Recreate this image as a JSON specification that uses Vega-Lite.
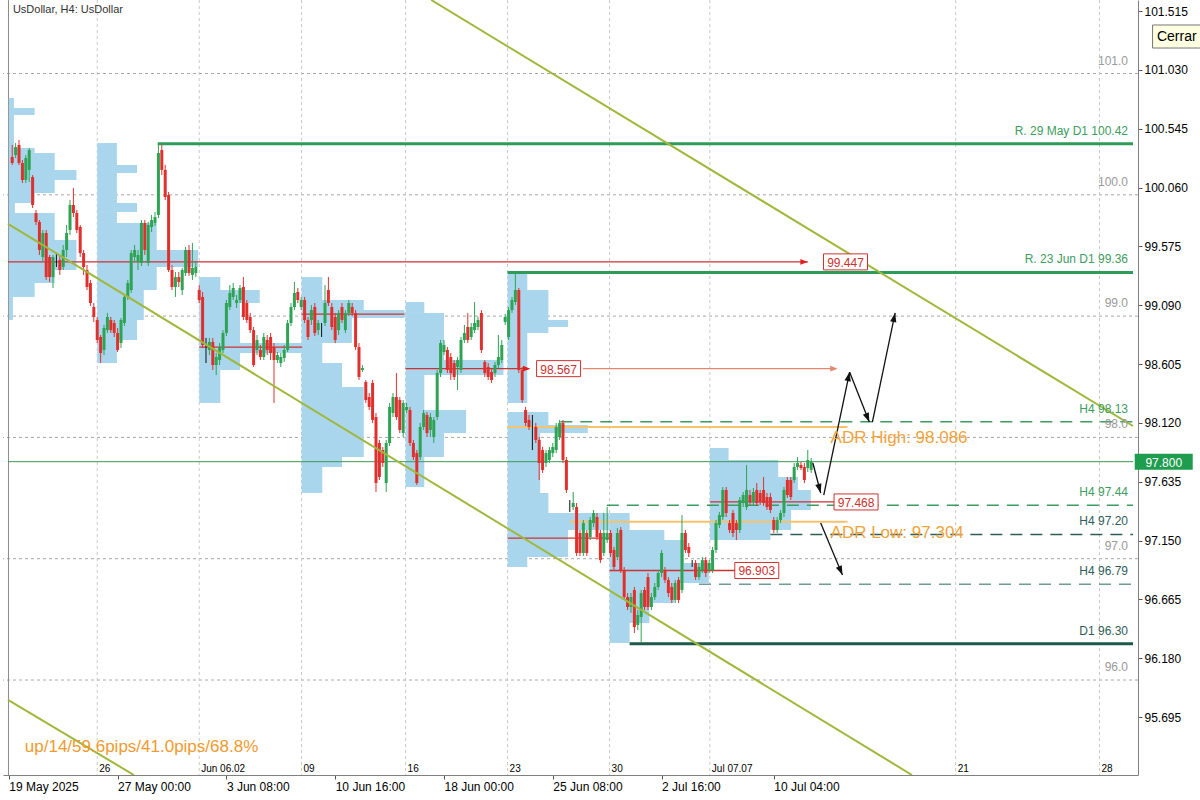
{
"$schema":"https://vega.github.io/schema/vega-lite/v6.json",
"width":1135,"height":775,
"autosize":{"type":"none"},
"padding":{"left":3,"top":0,"right":62,"bottom":25},
"background":"white",
"config":{"view":{"stroke":null},"font":"Liberation Sans"},
"resolve":{"scale":{"color":"independent"}},
"datasets":{
"one":[{}],
"hgrid":[{"g":96},{"g":97},{"g":98},{"g":99},{"g":100},{"g":101}],
"vlab":[{"v":0,"t":"26"},{"v":30,"t":"Jun 06.02"},{"v":60.1,"t":"09"},{"v":90.7,"t":"16"},{"v":120.7,"t":"23"},{"v":150.7,"t":"30"},{"v":180.2,"t":"Jul 07.07"},{"v":252.5,"t":"21"},{"v":294.8,"t":"28"}],
"prof":[
{"s":-26,"e":-24.5,"lo":100.716,"hi":100.798},{"s":-26,"e":-18.4,"lo":100.658,"hi":100.716},{"s":-26,"e":-24.5,"lo":100.386,"hi":100.658},{"s":-26,"e":-18.4,"lo":100.345,"hi":100.386},{"s":-26,"e":-12.5,"lo":100.205,"hi":100.345},{"s":-26,"e":-6.1,"lo":100.122,"hi":100.205},{"s":-26,"e":-12.5,"lo":100.015,"hi":100.122},{"s":-26,"e":-18.4,"lo":99.932,"hi":100.015},{"s":-26,"e":-24.2,"lo":99.85,"hi":99.932},{"s":-26,"e":-12.5,"lo":99.628,"hi":99.85},{"s":-26,"e":-6.1,"lo":99.38,"hi":99.628},{"s":-26,"e":-12.5,"lo":99.273,"hi":99.38},{"s":-26,"e":-18.4,"lo":99.158,"hi":99.273},{"s":-26,"e":-24.8,"lo":98.968,"hi":99.158},
{"s":0,"e":5.8,"lo":100.246,"hi":100.427},{"s":0,"e":11.7,"lo":100.18,"hi":100.246},{"s":0,"e":5.8,"lo":99.932,"hi":100.18},{"s":0,"e":11.7,"lo":99.858,"hi":99.932},{"s":0,"e":5.8,"lo":99.768,"hi":99.858},{"s":0,"e":17.5,"lo":99.545,"hi":99.768},{"s":0,"e":29.7,"lo":99.405,"hi":99.545},{"s":0,"e":17.5,"lo":99.215,"hi":99.405},{"s":0,"e":13.7,"lo":98.968,"hi":99.215},{"s":0,"e":11.7,"lo":98.803,"hi":98.968},{"s":0,"e":5.8,"lo":98.613,"hi":98.803},
{"s":30,"e":36.2,"lo":99.215,"hi":99.322},{"s":30,"e":47.8,"lo":99.108,"hi":99.215},{"s":30,"e":42,"lo":98.778,"hi":99.108},{"s":30,"e":60.3,"lo":98.696,"hi":98.778},{"s":30,"e":42,"lo":98.556,"hi":98.696},{"s":30,"e":36.2,"lo":98.284,"hi":98.556},
{"s":60.1,"e":66.2,"lo":99.133,"hi":99.322},{"s":60.1,"e":78.4,"lo":99.05,"hi":99.133},{"s":60.1,"e":90.4,"lo":98.984,"hi":99.05},{"s":60.1,"e":74.9,"lo":98.778,"hi":98.984},{"s":60.1,"e":66.2,"lo":98.613,"hi":98.778},{"s":60.1,"e":72,"lo":98.416,"hi":98.613},{"s":60.1,"e":78.4,"lo":97.838,"hi":98.416},{"s":60.1,"e":72,"lo":97.756,"hi":97.838},{"s":60.1,"e":66.2,"lo":97.542,"hi":97.756},
{"s":90.7,"e":96.2,"lo":99.026,"hi":99.116},{"s":90.7,"e":102,"lo":98.638,"hi":99.026},{"s":90.7,"e":119.5,"lo":98.514,"hi":98.638},{"s":90.7,"e":96.2,"lo":98.226,"hi":98.514},{"s":90.7,"e":108.5,"lo":98.036,"hi":98.226},{"s":90.7,"e":102,"lo":97.838,"hi":98.036},{"s":90.7,"e":96.2,"lo":97.591,"hi":97.838},
{"s":120.7,"e":126.5,"lo":99.215,"hi":99.355},{"s":120.7,"e":132.7,"lo":98.968,"hi":99.215},{"s":120.7,"e":138.5,"lo":98.91,"hi":98.968},{"s":120.7,"e":132.7,"lo":98.861,"hi":98.91},{"s":120.7,"e":126.5,"lo":98.284,"hi":98.861},{"s":120.7,"e":132.7,"lo":98.102,"hi":98.209},{"s":120.7,"e":144.3,"lo":98.036,"hi":98.102},{"s":120.7,"e":130.3,"lo":97.542,"hi":98.036},{"s":120.7,"e":132.7,"lo":97.377,"hi":97.542},{"s":120.7,"e":150.7,"lo":97.237,"hi":97.377},{"s":120.7,"e":138.5,"lo":97.014,"hi":97.237},{"s":120.7,"e":126.5,"lo":96.932,"hi":97.014},
{"s":150.7,"e":156.6,"lo":97.237,"hi":97.377},{"s":150.7,"e":166.8,"lo":97.154,"hi":97.237},{"s":150.7,"e":172.6,"lo":96.965,"hi":97.154},{"s":150.7,"e":179.9,"lo":96.8,"hi":96.965},{"s":150.7,"e":169.7,"lo":96.635,"hi":96.8},{"s":150.7,"e":162.4,"lo":96.47,"hi":96.635},{"s":150.7,"e":156.6,"lo":96.305,"hi":96.47},
{"s":180.2,"e":185.7,"lo":97.814,"hi":97.913},{"s":180.2,"e":200.3,"lo":97.674,"hi":97.814},{"s":180.2,"e":206.1,"lo":97.567,"hi":97.674},{"s":180.2,"e":209.9,"lo":97.402,"hi":97.567},{"s":180.2,"e":204.1,"lo":97.237,"hi":97.402},{"s":180.2,"e":198,"lo":97.154,"hi":97.237}
],
"levels":[
{"x1":-26.24,"x2":304.66,"p":97.8,"k":"cur"},
{"x1":17.8,"x2":304.66,"p":100.42,"k":"R"},{"x1":120.7,"x2":304.66,"p":99.36,"k":"R"},
{"x1":156.6,"x2":304.66,"p":96.3,"k":"D1"},
{"x1":136.2,"x2":304.66,"p":98.13,"k":"H4g"},{"x1":149.9,"x2":304.66,"p":97.44,"k":"H4g"},
{"x1":198,"x2":304.66,"p":97.2,"k":"H4d"},{"x1":177,"x2":304.66,"p":96.79,"k":"H4s"},
{"x1":120.7,"x2":220.7,"p":98.086,"k":"ADR"},{"x1":139,"x2":220.7,"p":97.304,"k":"ADR"},
{"x1":-26.24,"x2":209,"p":99.447,"k":"poc"},{"x1":30,"x2":60.3,"p":98.745,"k":"poc"},{"x1":60.1,"x2":90.4,"p":99.017,"k":"poc"},{"x1":90.7,"x2":127,"p":98.567,"k":"poc"},{"x1":120.7,"x2":150.7,"p":97.17,"k":"poc"},{"x1":150.7,"x2":187.8,"p":96.903,"k":"poc"},{"x1":180.2,"x2":216.9,"p":97.468,"k":"poc"},
{"x1":142.9,"x2":216.5,"p":98.567,"k":"poc2"}
],
"candles":[
{"i":-25,"o":100.312,"h":100.411,"l":100.246,"c":100.262},{"i":-24,"o":100.328,"h":100.427,"l":100.303,"c":100.394},{"i":-23,"o":100.411,"h":100.452,"l":100.246,"c":100.262},{"i":-22,"o":100.262,"h":100.287,"l":100.097,"c":100.122},{"i":-21,"o":100.122,"h":100.328,"l":100.097,"c":100.303},{"i":-20,"o":100.205,"h":100.386,"l":100.106,"c":100.369},{"i":-19,"o":100.147,"h":100.163,"l":99.891,"c":99.916},{"i":-18,"o":99.85,"h":99.875,"l":99.751,"c":99.776},{"i":-17,"o":99.776,"h":99.792,"l":99.504,"c":99.545},{"i":-16,"o":99.487,"h":99.71,"l":99.446,"c":99.685},{"i":-15,"o":99.685,"h":99.71,"l":99.298,"c":99.322},{"i":-14,"o":99.487,"h":99.504,"l":99.281,"c":99.322},{"i":-13,"o":99.322,"h":99.504,"l":99.232,"c":99.487},{"i":-12,"o":99.47,"h":99.52,"l":99.405,"c":99.47},{"i":-11,"o":99.463,"h":99.504,"l":99.339,"c":99.38},{"i":-10,"o":99.405,"h":99.586,"l":99.38,"c":99.545},{"i":-9,"o":99.545,"h":99.751,"l":99.487,"c":99.685},{"i":-8,"o":99.71,"h":99.957,"l":99.669,"c":99.916},{"i":-7,"o":99.916,"h":100.056,"l":99.817,"c":99.85},{"i":-6,"o":99.85,"h":99.875,"l":99.685,"c":99.71},{"i":-5,"o":99.735,"h":99.751,"l":99.487,"c":99.52},{"i":-4,"o":99.52,"h":99.545,"l":99.339,"c":99.405},{"i":-3,"o":99.38,"h":99.421,"l":99.215,"c":99.24},{"i":-2,"o":99.273,"h":99.298,"l":99.083,"c":99.108},{"i":-1,"o":99.075,"h":99.108,"l":98.951,"c":98.993},
{"i":0,"o":98.968,"h":98.993,"l":98.778,"c":98.803},{"i":1,"o":98.828,"h":98.844,"l":98.613,"c":98.696},{"i":2,"o":98.721,"h":98.927,"l":98.679,"c":98.902},{"i":3,"o":98.885,"h":99.026,"l":98.861,"c":98.993},{"i":4,"o":98.968,"h":98.993,"l":98.861,"c":98.885},{"i":5,"o":98.943,"h":98.968,"l":98.828,"c":98.861},{"i":6,"o":98.861,"h":98.902,"l":98.704,"c":98.721},{"i":7,"o":98.778,"h":98.984,"l":98.737,"c":98.968},{"i":8,"o":98.943,"h":99.174,"l":98.918,"c":99.158},{"i":9,"o":99.158,"h":99.298,"l":99.133,"c":99.273},{"i":10,"o":99.215,"h":99.545,"l":99.191,"c":99.52},{"i":11,"o":99.487,"h":99.586,"l":99.446,"c":99.545},{"i":12,"o":99.446,"h":99.545,"l":99.38,"c":99.504},{"i":13,"o":99.438,"h":99.792,"l":99.413,"c":99.768},{"i":14,"o":99.768,"h":99.792,"l":99.504,"c":99.545},{"i":15,"o":99.438,"h":99.776,"l":99.413,"c":99.751},{"i":16,"o":99.735,"h":99.834,"l":99.693,"c":99.792},{"i":17,"o":99.768,"h":99.858,"l":99.743,"c":99.817},{"i":18,"o":99.834,"h":100.427,"l":99.809,"c":100.345},{"i":19,"o":100.369,"h":100.411,"l":100.163,"c":100.205},{"i":20,"o":100.205,"h":100.246,"l":99.957,"c":99.982},{"i":21,"o":99.998,"h":100.023,"l":99.364,"c":99.38},{"i":22,"o":99.38,"h":99.421,"l":99.215,"c":99.24},{"i":23,"o":99.24,"h":99.364,"l":99.158,"c":99.322},{"i":24,"o":99.322,"h":99.364,"l":99.24,"c":99.281},{"i":25,"o":99.215,"h":99.397,"l":99.174,"c":99.38},{"i":26,"o":99.355,"h":99.57,"l":99.331,"c":99.545},{"i":27,"o":99.545,"h":99.586,"l":99.331,"c":99.355},{"i":28,"o":99.339,"h":99.603,"l":99.298,"c":99.397},{"i":29,"o":99.355,"h":99.446,"l":99.322,"c":99.405},
{"i":30,"o":99.215,"h":99.256,"l":99.108,"c":99.133},{"i":31,"o":99.158,"h":99.199,"l":98.737,"c":98.762},{"i":32,"o":98.762,"h":98.82,"l":98.613,"c":98.762},{"i":33,"o":98.721,"h":98.82,"l":98.679,"c":98.787},{"i":34,"o":98.787,"h":98.82,"l":98.556,"c":98.597},{"i":35,"o":98.597,"h":98.696,"l":98.514,"c":98.663},{"i":36,"o":98.638,"h":98.778,"l":98.597,"c":98.745},{"i":37,"o":98.721,"h":98.885,"l":98.696,"c":98.861},{"i":38,"o":98.861,"h":99.133,"l":98.836,"c":99.108},{"i":39,"o":99.075,"h":99.256,"l":99.05,"c":99.191},{"i":40,"o":99.158,"h":99.273,"l":99.133,"c":99.232},{"i":41,"o":99.108,"h":99.174,"l":99.067,"c":99.133},{"i":42,"o":99.133,"h":99.256,"l":99.108,"c":99.232},{"i":43,"o":99.24,"h":99.322,"l":98.968,"c":98.993},{"i":44,"o":99.108,"h":99.133,"l":98.943,"c":98.968},{"i":45,"o":98.993,"h":99.026,"l":98.861,"c":98.885},{"i":46,"o":98.885,"h":98.91,"l":98.581,"c":98.597},{"i":47,"o":98.721,"h":98.844,"l":98.679,"c":98.803},{"i":48,"o":98.721,"h":98.762,"l":98.638,"c":98.663},{"i":49,"o":98.663,"h":98.861,"l":98.638,"c":98.828},{"i":50,"o":98.803,"h":98.844,"l":98.679,"c":98.721},{"i":51,"o":98.828,"h":98.861,"l":98.638,"c":98.696},{"i":52,"o":98.745,"h":98.778,"l":98.284,"c":98.638},{"i":53,"o":98.638,"h":98.704,"l":98.613,"c":98.679},{"i":54,"o":98.613,"h":98.696,"l":98.581,"c":98.663},{"i":55,"o":98.655,"h":98.762,"l":98.622,"c":98.721},{"i":56,"o":98.721,"h":98.968,"l":98.704,"c":98.943},{"i":57,"o":98.943,"h":99.108,"l":98.918,"c":99.075},{"i":58,"o":99.075,"h":99.281,"l":99.05,"c":99.191},{"i":59,"o":99.199,"h":99.232,"l":99.108,"c":99.133},
{"i":60,"o":99.075,"h":99.158,"l":99.05,"c":99.133},{"i":61,"o":99.133,"h":99.158,"l":98.943,"c":98.968},{"i":62,"o":98.968,"h":98.993,"l":98.803,"c":98.828},{"i":63,"o":98.968,"h":99.092,"l":98.927,"c":99.05},{"i":64,"o":99.075,"h":99.108,"l":98.836,"c":98.861},{"i":65,"o":98.885,"h":98.968,"l":98.844,"c":98.943},{"i":66,"o":98.91,"h":98.943,"l":98.828,"c":98.91},{"i":67,"o":98.943,"h":99.256,"l":98.918,"c":99.108},{"i":68,"o":99.215,"h":99.322,"l":99.083,"c":99.108},{"i":69,"o":99.075,"h":99.108,"l":98.885,"c":98.91},{"i":70,"o":98.993,"h":99.026,"l":98.778,"c":98.803},{"i":71,"o":98.885,"h":99.05,"l":98.844,"c":99.026},{"i":72,"o":99.075,"h":99.108,"l":98.943,"c":98.968},{"i":73,"o":98.885,"h":99.05,"l":98.861,"c":99.026},{"i":74,"o":99.026,"h":99.133,"l":99.001,"c":99.108},{"i":75,"o":99.075,"h":99.108,"l":99.001,"c":99.026},{"i":76,"o":99.026,"h":99.05,"l":98.721,"c":98.745},{"i":77,"o":98.745,"h":98.778,"l":98.473,"c":98.498},{"i":78,"o":98.556,"h":98.597,"l":98.539,"c":98.572},{"i":79,"o":98.457,"h":98.473,"l":98.284,"c":98.308},{"i":80,"o":98.333,"h":98.366,"l":98.226,"c":98.251},{"i":81,"o":98.449,"h":98.473,"l":98.119,"c":98.144},{"i":82,"o":98.168,"h":98.201,"l":97.55,"c":97.624},{"i":83,"o":97.954,"h":97.979,"l":97.649,"c":97.674},{"i":84,"o":97.896,"h":97.921,"l":97.756,"c":97.789},{"i":85,"o":97.624,"h":97.979,"l":97.55,"c":97.954},{"i":86,"o":97.954,"h":98.284,"l":97.929,"c":98.251},{"i":87,"o":98.201,"h":98.366,"l":98.168,"c":98.333},{"i":88,"o":98.333,"h":98.531,"l":98.144,"c":98.168},{"i":89,"o":98.308,"h":98.333,"l":98.036,"c":98.061},
{"i":90,"o":98.036,"h":98.308,"l":98.003,"c":98.284},{"i":91,"o":98.226,"h":98.284,"l":98.201,"c":98.251},{"i":92,"o":98.226,"h":98.251,"l":97.929,"c":97.954},{"i":93,"o":97.954,"h":97.979,"l":97.814,"c":97.838},{"i":94,"o":97.871,"h":97.896,"l":97.608,"c":97.624},{"i":95,"o":97.838,"h":98.119,"l":97.814,"c":98.086},{"i":96,"o":98.086,"h":98.226,"l":98.061,"c":98.201},{"i":97,"o":98.185,"h":98.209,"l":98.003,"c":98.036},{"i":98,"o":98.061,"h":98.201,"l":98.003,"c":98.168},{"i":99,"o":98.003,"h":98.168,"l":97.954,"c":98.144},{"i":100,"o":98.168,"h":98.556,"l":98.144,"c":98.531},{"i":101,"o":98.531,"h":98.803,"l":98.498,"c":98.778},{"i":102,"o":98.704,"h":98.803,"l":98.679,"c":98.762},{"i":103,"o":98.721,"h":98.745,"l":98.531,"c":98.556},{"i":104,"o":98.663,"h":98.696,"l":98.473,"c":98.531},{"i":105,"o":98.613,"h":98.638,"l":98.473,"c":98.498},{"i":106,"o":98.581,"h":98.663,"l":98.391,"c":98.638},{"i":107,"o":98.556,"h":98.828,"l":98.531,"c":98.803},{"i":108,"o":98.803,"h":98.927,"l":98.778,"c":98.861},{"i":109,"o":98.91,"h":99.026,"l":98.778,"c":98.803},{"i":110,"o":98.828,"h":98.943,"l":98.803,"c":98.91},{"i":111,"o":98.885,"h":99.116,"l":98.861,"c":98.943},{"i":112,"o":98.91,"h":98.993,"l":98.885,"c":98.968},{"i":113,"o":99.026,"h":99.05,"l":98.696,"c":98.721},{"i":114,"o":98.622,"h":98.638,"l":98.498,"c":98.531},{"i":115,"o":98.581,"h":98.613,"l":98.473,"c":98.498},{"i":116,"o":98.539,"h":98.572,"l":98.449,"c":98.473},{"i":117,"o":98.531,"h":98.622,"l":98.498,"c":98.597},{"i":118,"o":98.597,"h":98.844,"l":98.572,"c":98.663},{"i":119,"o":98.638,"h":98.803,"l":98.613,"c":98.762},
{"i":120,"o":98.951,"h":99.017,"l":98.927,"c":98.993},{"i":121,"o":98.828,"h":99.075,"l":98.803,"c":99.05},{"i":122,"o":99.05,"h":99.158,"l":99.026,"c":99.133},{"i":123,"o":99.116,"h":99.355,"l":99.092,"c":99.215},{"i":124,"o":99.215,"h":99.232,"l":98.531,"c":98.556},{"i":125,"o":98.556,"h":98.581,"l":98.284,"c":98.308},{"i":126,"o":98.226,"h":98.251,"l":98.094,"c":98.119},{"i":127,"o":98.144,"h":98.185,"l":98.061,"c":98.086},{"i":128,"o":98.061,"h":98.185,"l":97.896,"c":98.061},{"i":129,"o":98.086,"h":98.119,"l":97.954,"c":97.979},{"i":130,"o":97.979,"h":98.003,"l":97.649,"c":97.789},{"i":131,"o":97.896,"h":97.921,"l":97.707,"c":97.731},{"i":132,"o":97.789,"h":97.896,"l":97.756,"c":97.871},{"i":133,"o":97.814,"h":97.921,"l":97.789,"c":97.896},{"i":134,"o":97.871,"h":97.954,"l":97.838,"c":97.921},{"i":135,"o":97.896,"h":98.119,"l":97.871,"c":98.086},{"i":136,"o":98.003,"h":98.144,"l":97.979,"c":98.119},{"i":137,"o":98.119,"h":98.144,"l":97.789,"c":97.814},{"i":138,"o":97.814,"h":97.838,"l":97.542,"c":97.567},{"i":139,"o":97.443,"h":97.484,"l":97.385,"c":97.443},{"i":140,"o":97.426,"h":97.55,"l":97.402,"c":97.459},{"i":141,"o":97.426,"h":97.459,"l":97.022,"c":97.047},{"i":142,"o":97.212,"h":97.237,"l":97.022,"c":97.047},{"i":143,"o":97.047,"h":97.319,"l":97.022,"c":97.294},{"i":144,"o":97.212,"h":97.237,"l":97.022,"c":97.047},{"i":145,"o":97.179,"h":97.344,"l":97.154,"c":97.319},{"i":146,"o":97.294,"h":97.402,"l":97.261,"c":97.377},{"i":147,"o":97.344,"h":97.377,"l":97.154,"c":97.179},{"i":148,"o":97.212,"h":97.237,"l":96.965,"c":96.989},{"i":149,"o":97.047,"h":97.377,"l":97.022,"c":97.212},
{"i":150,"o":97.154,"h":97.426,"l":97.129,"c":97.212},{"i":151,"o":97.212,"h":97.237,"l":97.014,"c":97.047},{"i":152,"o":97.072,"h":97.097,"l":96.907,"c":96.932},{"i":153,"o":97.014,"h":97.253,"l":96.989,"c":97.212},{"i":154,"o":97.237,"h":97.261,"l":96.882,"c":96.907},{"i":155,"o":96.907,"h":96.932,"l":96.66,"c":96.684},{"i":156,"o":96.684,"h":96.717,"l":96.577,"c":96.602},{"i":157,"o":96.602,"h":96.717,"l":96.553,"c":96.684},{"i":158,"o":96.742,"h":96.767,"l":96.388,"c":96.437},{"i":159,"o":96.454,"h":96.577,"l":96.412,"c":96.536},{"i":160,"o":96.52,"h":96.742,"l":96.313,"c":96.717},{"i":161,"o":96.742,"h":96.767,"l":96.577,"c":96.602},{"i":162,"o":96.849,"h":96.882,"l":96.577,"c":96.602},{"i":163,"o":96.602,"h":96.717,"l":96.577,"c":96.684},{"i":164,"o":96.684,"h":96.8,"l":96.66,"c":96.767},{"i":165,"o":96.767,"h":96.907,"l":96.742,"c":96.882},{"i":166,"o":96.882,"h":97.072,"l":96.849,"c":97.047},{"i":167,"o":96.907,"h":96.932,"l":96.8,"c":96.825},{"i":168,"o":96.825,"h":96.849,"l":96.684,"c":96.717},{"i":169,"o":96.767,"h":96.8,"l":96.635,"c":96.66},{"i":170,"o":96.66,"h":96.825,"l":96.635,"c":96.8},{"i":171,"o":96.825,"h":96.849,"l":96.635,"c":96.66},{"i":172,"o":96.742,"h":97.36,"l":96.717,"c":97.212},{"i":173,"o":97.212,"h":97.237,"l":97.047,"c":97.072},{"i":174,"o":97.097,"h":97.129,"l":97.014,"c":97.047},{"i":175,"o":96.965,"h":96.989,"l":96.932,"c":96.965},{"i":176,"o":96.965,"h":96.989,"l":96.825,"c":96.849},{"i":177,"o":96.849,"h":96.965,"l":96.825,"c":96.932},{"i":178,"o":96.907,"h":97.014,"l":96.882,"c":96.989},{"i":179,"o":96.989,"h":97.014,"l":96.849,"c":96.882},
{"i":180,"o":96.907,"h":96.989,"l":96.882,"c":96.965},{"i":181,"o":96.907,"h":97.097,"l":96.882,"c":97.072},{"i":182,"o":97.072,"h":97.319,"l":97.047,"c":97.294},{"i":183,"o":97.278,"h":97.385,"l":97.253,"c":97.36},{"i":184,"o":97.344,"h":97.591,"l":97.319,"c":97.567},{"i":185,"o":97.567,"h":97.591,"l":97.344,"c":97.377},{"i":186,"o":97.294,"h":97.319,"l":97.212,"c":97.237},{"i":187,"o":97.377,"h":97.402,"l":97.179,"c":97.212},{"i":188,"o":97.294,"h":97.319,"l":97.154,"c":97.237},{"i":189,"o":97.237,"h":97.509,"l":97.212,"c":97.484},{"i":190,"o":97.459,"h":97.55,"l":97.426,"c":97.525},{"i":191,"o":97.426,"h":97.773,"l":97.402,"c":97.567},{"i":192,"o":97.525,"h":97.567,"l":97.443,"c":97.468},{"i":193,"o":97.468,"h":97.583,"l":97.443,"c":97.55},{"i":194,"o":97.567,"h":97.624,"l":97.435,"c":97.459},{"i":195,"o":97.542,"h":97.567,"l":97.443,"c":97.468},{"i":196,"o":97.567,"h":97.674,"l":97.435,"c":97.459},{"i":197,"o":97.509,"h":97.542,"l":97.402,"c":97.426},{"i":198,"o":97.509,"h":97.542,"l":97.377,"c":97.402},{"i":199,"o":97.319,"h":97.344,"l":97.212,"c":97.237},{"i":200,"o":97.237,"h":97.344,"l":97.212,"c":97.319},{"i":201,"o":97.319,"h":97.402,"l":97.294,"c":97.377},{"i":202,"o":97.377,"h":97.591,"l":97.344,"c":97.567},{"i":203,"o":97.649,"h":97.674,"l":97.501,"c":97.525},{"i":204,"o":97.649,"h":97.674,"l":97.484,"c":97.509},{"i":205,"o":97.649,"h":97.789,"l":97.624,"c":97.756},{"i":206,"o":97.756,"h":97.838,"l":97.731,"c":97.789},{"i":207,"o":97.773,"h":97.797,"l":97.731,"c":97.748},{"i":208,"o":97.756,"h":97.789,"l":97.624,"c":97.649},{"i":209,"o":97.748,"h":97.896,"l":97.715,"c":97.814},{"i":210,"o":97.731,"h":97.83,"l":97.707,"c":97.8}
],
"channel":[{"x1":98.25,"y1":101.606,"x2":304.66,"y2":98.094},{"x1":-26.24,"y1":99.761,"x2":239.65,"y2":95.217},{"x1":-26.24,"y1":95.837,"x2":10.79,"y2":95.217}],
"arrows":[{"x1":210.5,"y1":97.789,"x2":212.8,"y2":97.542,"a":165},{"x1":213.7,"y1":97.525,"x2":221.3,"y2":98.539,"a":12},{"x1":221.3,"y1":98.539,"x2":227.1,"y2":98.127,"a":158},{"x1":228.0,"y1":98.127,"x2":234.7,"y2":99.026,"a":12},{"x1":212.8,"y1":97.294,"x2":219.2,"y2":96.866,"a":157}],
"tri":[{"x":209,"p":99.447,"k":"r"},{"x":127.4,"p":98.567,"k":"r"},{"x":217.8,"p":98.567,"k":"s"}],
"boxes":[{"x":220.1,"p":99.447,"t":"99.447"},{"x":135.7,"p":98.567,"t":"98.567"},{"x":223.2,"p":97.468,"t":"97.468"},{"x":194,"p":96.903,"t":"96.903"}],
"rlab":[{"t":"101.0","p":101.0,"k":"gr"},{"t":"R. 29 May D1 100.42","p":100.42,"k":"g"},{"t":"100.0","p":100.0,"k":"gr"},{"t":"R. 23 Jun D1 99.36","p":99.36,"k":"g"},{"t":"99.0","p":99.0,"k":"gr"},{"t":"H4 98.13","p":98.13,"k":"g"},{"t":"98.0","p":98.0,"k":"gr"},{"t":"H4 97.44","p":97.44,"k":"g"},{"t":"H4 97.20","p":97.2,"k":"d"},{"t":"97.0","p":97.0,"k":"gr"},{"t":"H4 96.79","p":96.79,"k":"d"},{"t":"D1 96.30","p":96.3,"k":"d"},{"t":"96.0","p":96.0,"k":"gr"}],
"adr":[{"t":"ADR High: 98.086","p":98.086},{"t":"ADR Low: 97.304","p":97.304}]
},
"layer":[
{"data":{"name":"hgrid"},"mark":{"type":"rule","strokeDash":[3,3],"color":"#a8a8a8","strokeWidth":1},
 "encoding":{"y":{"field":"g","type":"quantitative","title":null,"scale":{"domain":[95.217,101.606],"nice":false,"zero":false},
  "axis":{"orient":"right","title":null,"grid":false,"values":[101.515,101.03,100.545,100.06,99.575,99.09,98.605,98.12,97.635,97.15,96.665,96.18,95.695],"format":".3f","labelFontSize":12,"labelColor":"#000","labelFont":"Liberation Sans","tickSize":4,"tickColor":"#555","domainColor":"#808080","labelPadding":2,"labelOverlap":false,"labelFlush":false}}}},
{"data":{"name":"vlab"},"mark":{"type":"rule","strokeDash":[3,3],"color":"#c8c8c8","strokeWidth":1},
  "encoding":{"x":{"field":"v","type":"quantitative","title":null,"scale":{"domain":[-26.24,304.66],"nice":false,"zero":false},
   "axis":{"orient":"bottom","title":null,"grid":false,"values":[-26,6,38,70,102,134,166,199],
   "labelExpr":"datum.value == -26 ? '19 May 2025' : datum.value == 6 ? '27 May 00:00' : datum.value == 38 ? '3 Jun 08:00' : datum.value == 70 ? '10 Jun 16:00' : datum.value == 102 ? '18 Jun 00:00' : datum.value == 134 ? '25 Jun 08:00' : datum.value == 166 ? '2 Jul 16:00' : '10 Jul 04:00'",
   "labelAlign":"left","labelFontSize":12,"labelColor":"#000","labelFont":"Liberation Sans","tickSize":4,"tickColor":"#555","domainColor":"#808080","labelPadding":2,"labelOverlap":false,"labelFlush":false}}}},
{"data":{"name":"vlab"},"mark":{"type":"text","align":"left","baseline":"bottom","dx":2,"dy":-1,"fontSize":10,"color":"#000"},
  "encoding":{"x":{"field":"v","type":"quantitative","title":null},"y":{"datum":95.217,"title":null},"text":{"field":"t"}}},
{"data":{"name":"one"},"mark":{"type":"rule","color":"#8a8a8a","strokeWidth":1},"encoding":{"x":{"datum":-26.1,"title":null}}},
{"data":{"name":"prof"},"mark":{"type":"rect","color":"#a9d6ec"},
 "encoding":{"x":{"field":"s","type":"quantitative","title":null},"x2":{"field":"e"},"y":{"field":"lo","type":"quantitative","title":null},"y2":{"field":"hi"}}},
{"data":{"name":"levels"},"transform":[{"filter":"datum.k == 'cur'"}],"mark":{"type":"rule","color":"#3a9a55","strokeWidth":1},
 "encoding":{"x":{"field":"x1","type":"quantitative","title":null},"x2":{"field":"x2"},"y":{"field":"p","type":"quantitative","title":null}}},
{"data":{"name":"levels"},"transform":[{"filter":"datum.k == 'R'"}],"mark":{"type":"rule","color":"#2f9b58","strokeWidth":3},
 "encoding":{"x":{"field":"x1","type":"quantitative","title":null},"x2":{"field":"x2"},"y":{"field":"p","type":"quantitative","title":null}}},
{"data":{"name":"levels"},"transform":[{"filter":"datum.k == 'D1'"}],"mark":{"type":"rule","color":"#1d5a4a","strokeWidth":3},
 "encoding":{"x":{"field":"x1","type":"quantitative","title":null},"x2":{"field":"x2"},"y":{"field":"p","type":"quantitative","title":null}}},
{"data":{"name":"levels"},"transform":[{"filter":"datum.k == 'H4g'"}],"mark":{"type":"rule","color":"#3d9b60","strokeWidth":1.5,"strokeDash":[12,8]},
 "encoding":{"x":{"field":"x1","type":"quantitative","title":null},"x2":{"field":"x2"},"y":{"field":"p","type":"quantitative","title":null}}},
{"data":{"name":"levels"},"transform":[{"filter":"datum.k == 'H4d'"}],"mark":{"type":"rule","color":"#2e5c57","strokeWidth":1.5,"strokeDash":[12,8]},
 "encoding":{"x":{"field":"x1","type":"quantitative","title":null},"x2":{"field":"x2"},"y":{"field":"p","type":"quantitative","title":null}}},
{"data":{"name":"levels"},"transform":[{"filter":"datum.k == 'H4s'"}],"mark":{"type":"rule","color":"#6f9c97","strokeWidth":1.5,"strokeDash":[12,8]},
 "encoding":{"x":{"field":"x1","type":"quantitative","title":null},"x2":{"field":"x2"},"y":{"field":"p","type":"quantitative","title":null}}},
{"data":{"name":"levels"},"transform":[{"filter":"datum.k == 'ADR'"}],"mark":{"type":"rule","color":"#f6c36d","strokeWidth":2},
 "encoding":{"x":{"field":"x1","type":"quantitative","title":null},"x2":{"field":"x2"},"y":{"field":"p","type":"quantitative","title":null}}},
{"data":{"name":"levels"},"transform":[{"filter":"datum.k == 'poc'"}],"mark":{"type":"rule","color":"#cc3333","strokeWidth":1.3},
 "encoding":{"x":{"field":"x1","type":"quantitative","title":null},"x2":{"field":"x2"},"y":{"field":"p","type":"quantitative","title":null}}},
{"data":{"name":"levels"},"transform":[{"filter":"datum.k == 'poc2'"}],"mark":{"type":"rule","color":"#e5876f","strokeWidth":1.3},
 "encoding":{"x":{"field":"x1","type":"quantitative","title":null},"x2":{"field":"x2"},"y":{"field":"p","type":"quantitative","title":null}}},
{"data":{"name":"candles"},"mark":{"type":"rule","strokeWidth":1},
  "encoding":{"x":{"field":"i","type":"quantitative","title":null},"y":{"field":"l","type":"quantitative","title":null},"y2":{"field":"h"},
   "color":{"condition":[{"test":"datum.c < datum.o","value":"#e0302e"},{"test":"datum.c == datum.o","value":"#111111"}],"value":"#2ea354"}}},
{"data":{"name":"candles"},"mark":{"type":"bar","width":3},
  "encoding":{"x":{"field":"i","type":"quantitative","title":null},"y":{"field":"o","type":"quantitative","title":null},"y2":{"field":"c"},
   "color":{"condition":[{"test":"datum.c < datum.o","value":"#e0302e"},{"test":"datum.c == datum.o","value":"#111111"}],"value":"#2ea354"}}},
{"data":{"name":"channel"},"mark":{"type":"rule","color":"#9fb83a","strokeWidth":2,"clip":true},
 "encoding":{"x":{"field":"x1","type":"quantitative","title":null},"x2":{"field":"x2"},"y":{"field":"y1","type":"quantitative","title":null},"y2":{"field":"y2"}}},
{"data":{"name":"tri"},"mark":{"type":"point","shape":"M0,0L0.5,1.3L-0.5,1.3Z","filled":true,"opacity":1,"size":130,"angle":90},
 "encoding":{"x":{"field":"x","type":"quantitative","title":null},"y":{"field":"p","type":"quantitative","title":null},
  "color":{"field":"k","type":"nominal","legend":null,"scale":{"domain":["r","s"],"range":["#e02020","#e5876f"]}}}},
{"data":{"name":"arrows"},"mark":{"type":"rule","color":"#111111","strokeWidth":1.3},
  "encoding":{"x":{"field":"x1","type":"quantitative","title":null},"x2":{"field":"x2"},"y":{"field":"y1","type":"quantitative","title":null},"y2":{"field":"y2"}}},
{"data":{"name":"arrows"},"mark":{"type":"point","shape":"M0,0L0.45,1.3L-0.45,1.3Z","filled":true,"opacity":1,"size":200,"color":"#111111"},
  "encoding":{"x":{"field":"x2","type":"quantitative","title":null},"y":{"field":"y2","type":"quantitative","title":null},"angle":{"field":"a","type":"quantitative","scale":null}}},
{"data":{"name":"boxes"},"mark":{"type":"point","shape":"M-1,-0.364L1,-0.364L1,0.364L-1,0.364Z","filled":false,"fill":"#ffffff","fillOpacity":1,"stroke":"#d03030","strokeWidth":1,"opacity":1,"size":1936},
  "encoding":{"x":{"field":"x","type":"quantitative","title":null},"y":{"field":"p","type":"quantitative","title":null}}},
{"data":{"name":"boxes"},"mark":{"type":"text","align":"center","baseline":"middle","fontSize":12,"color":"#c83030","dy":1},
  "encoding":{"x":{"field":"x","type":"quantitative","title":null},"y":{"field":"p","type":"quantitative","title":null},"text":{"field":"t"}}},
{"data":{"name":"rlab"},"mark":{"type":"text","align":"right","baseline":"middle","dy":-13,"fontSize":12},
 "encoding":{"x":{"datum":303.2,"title":null},"y":{"field":"p","type":"quantitative","title":null},"text":{"field":"t"},
  "color":{"field":"k","type":"nominal","legend":null,"scale":{"domain":["g","gr","d"],"range":["#3e9c5e","#9a9a9a","#2f5d58"]}}}},
{"data":{"name":"adr"},"mark":{"type":"text","align":"left","baseline":"middle","dy":11,"fontSize":17,"color":"#f2a33a"},
 "encoding":{"x":{"datum":215.7,"title":null},"y":{"field":"p","type":"quantitative","title":null},"text":{"field":"t"}}},
{"data":{"name":"one"},"mark":{"type":"text","align":"left","baseline":"middle","fontSize":11,"color":"#333333","text":"UsDollar, H4: UsDollar"},
 "encoding":{"x":{"datum":-24.8,"title":null},"y":{"datum":101.524,"title":null}}},
{"data":{"name":"one"},"mark":{"type":"text","align":"left","baseline":"middle","fontSize":17,"color":"#f19a2f","text":"up/14/59.6pips/41.0pips/68.8%"},
 "encoding":{"x":{"datum":-21.3,"title":null},"y":{"datum":95.448,"title":null}}},
{"data":{"name":"one"},"mark":{"type":"point","shape":"M-1,-0.276L1,-0.276L1,0.276L-1,0.276Z","filled":true,"color":"#1f9d4f","opacity":1,"size":3364},
 "encoding":{"x":{"datum":313.7,"title":null},"y":{"datum":97.8,"title":null}}},
{"data":{"name":"one"},"mark":{"type":"text","align":"center","baseline":"middle","fontSize":12,"color":"#ffffff","text":"97.800","dy":1},
 "encoding":{"x":{"datum":313.7,"title":null},"y":{"datum":97.8,"title":null}}},
{"data":{"name":"one"},"mark":{"type":"point","shape":"M-1,-0.404L1,-0.404L1,0.404L-1,0.404Z","filled":false,"fill":"#ffffe1","fillOpacity":1,"stroke":"#777777","strokeWidth":1,"opacity":1,"size":3249},
 "encoding":{"x":{"datum":318.8,"title":null},"y":{"datum":101.305,"title":null}}},
{"data":{"name":"one"},"mark":{"type":"text","align":"left","baseline":"middle","fontSize":14,"color":"#000000","text":"Cerrar"},
 "encoding":{"x":{"datum":311.7,"title":null},"y":{"datum":101.305,"title":null}}}
]
}
